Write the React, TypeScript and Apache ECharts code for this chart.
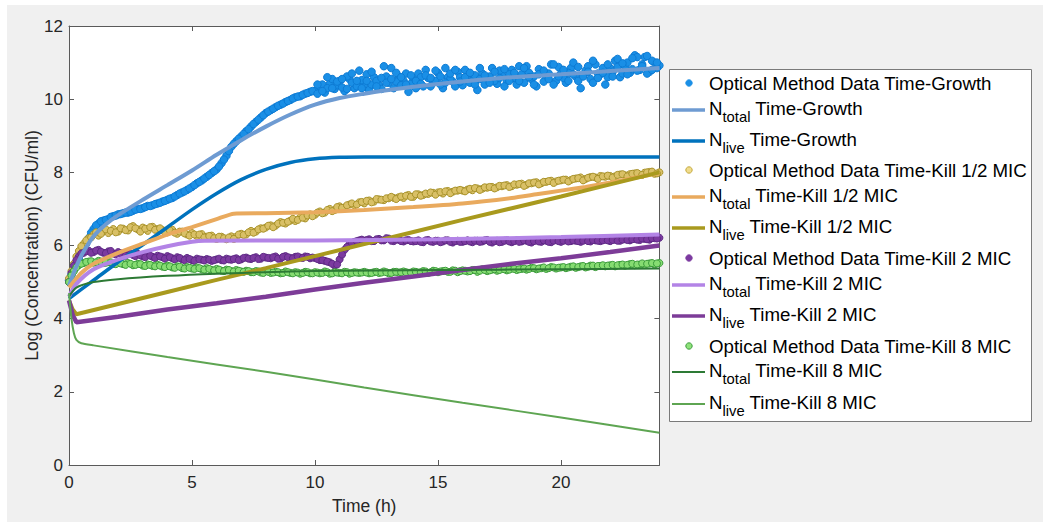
import React, { useEffect, useRef } from "react";
import * as echarts from "echarts";

// sample times (h) of the optical method data
const T = [
  0, 0.2, 0.4, 0.6, 0.8, 1, 1.2, 1.4, 1.6, 1.8,
  2, 2.2, 2.4, 2.6, 2.8, 3, 3.2, 3.4, 3.6, 3.8,
  4, 4.2, 4.4, 4.6, 4.8, 5, 5.2, 5.4, 5.6, 5.8,
  6, 6.2, 6.4, 6.6, 6.8, 7, 7.2, 7.4, 7.6, 7.8,
  8, 8.2, 8.4, 8.6, 8.8, 9, 9.2, 9.4, 9.6, 9.8,
  10, 10.2, 10.4, 10.6, 10.8, 11, 11.2, 11.4, 11.6, 11.8,
  12, 12.2, 12.4, 12.6, 12.8, 13, 13.2, 13.4, 13.6, 13.8,
  14, 14.2, 14.4, 14.6, 14.8, 15, 15.2, 15.4, 15.6, 15.8,
  16, 16.2, 16.4, 16.6, 16.8, 17, 17.2, 17.4, 17.6, 17.8,
  18, 18.2, 18.4, 18.6, 18.8, 19, 19.2, 19.4, 19.6, 19.8,
  20, 20.2, 20.4, 20.6, 20.8, 21, 21.2, 21.4, 21.6, 21.8,
  22, 22.2, 22.4, 22.6, 22.8, 23, 23.2, 23.4, 23.6, 23.8,
  24,
];
// readings taken between the samples above
const T1 = [
  0.1, 0.3, 0.5, 0.7, 0.9, 1.1, 1.3, 1.5, 1.7, 1.9,
  2.1, 2.3, 2.5, 2.7, 2.9, 3.1, 3.3, 3.5, 3.7, 3.9,
  4.1, 4.3, 4.5, 4.7, 4.9, 5.1, 5.3, 5.5, 5.7, 5.9,
  6.1, 6.3, 6.5, 6.7, 6.9, 7.1, 7.3, 7.5, 7.7, 7.9,
  8.1, 8.3, 8.5, 8.7, 8.9, 9.1, 9.3, 9.5, 9.7, 9.9,
  10.1, 10.3, 10.5, 10.7, 10.9, 11.1, 11.3, 11.5, 11.7, 11.9,
  12.1, 12.3, 12.5, 12.7, 12.9, 13.1, 13.3, 13.5, 13.7, 13.9,
  14.1, 14.3, 14.5, 14.7, 14.9, 15.1, 15.3, 15.5, 15.7, 15.9,
  16.1, 16.3, 16.5, 16.7, 16.9, 17.1, 17.3, 17.5, 17.7, 17.9,
  18.1, 18.3, 18.5, 18.7, 18.9, 19.1, 19.3, 19.5, 19.7, 19.9,
  20.1, 20.3, 20.5, 20.7, 20.9, 21.1, 21.3, 21.5, 21.7, 21.9,
  22.1, 22.3, 22.5, 22.7, 22.9, 23.1, 23.3, 23.5, 23.7, 23.9,
];

const growthData = [
  5.05, 5.35, 5.62, 5.9, 6.2, 6.45, 6.6, 6.68, 6.72, 6.8,
  6.85, 6.88, 6.9, 6.95, 7.0, 7.02, 7.08, 7.1, 7.15, 7.2,
  7.25, 7.3, 7.38, 7.45, 7.52, 7.6, 7.7, 7.78, 7.88, 7.98,
  8.08, 8.25, 8.45, 8.7, 8.85, 8.98, 9.12, 9.25, 9.38, 9.5,
  9.62, 9.7, 9.78, 9.85, 9.92, 9.98, 10.05, 10.08, 10.15, 10.2,
  10.22, 10.35, 10.18, 10.42, 10.28, 10.5, 10.22, 10.55, 10.3, 10.78,
  10.4, 10.25, 10.6, 10.38, 10.9, 10.45, 10.3, 10.62, 10.5, 10.2,
  10.55, 10.7, 10.35, 10.58, 10.45, 10.72, 10.3, 10.6, 10.48, 10.75,
  10.38, 10.62, 10.5, 10.25, 10.7, 10.55, 10.85, 10.42, 10.65, 10.5,
  10.8, 10.4, 10.68, 10.9, 10.55, 10.35, 10.75, 10.6, 10.95, 10.5,
  10.7, 10.45, 10.85, 10.62, 10.3, 10.78, 10.55, 10.95, 10.68, 10.4,
  10.85, 11.05, 10.6, 10.9, 10.72, 11.2, 10.8, 11.15, 10.75, 11.0,
  10.92,
];
const growthOdd = [
  5.2, 5.5, 5.78, 6.05, 6.35, 6.55, 6.66, 6.7, 6.78, 6.82,
  6.86, 6.9, 6.92, 6.98, 7.0, 7.05, 7.08, 7.13, 7.17, 7.22,
  7.28, 7.34, 7.42, 7.48, 7.56, 7.65, 7.74, 7.83, 7.93, 8.03,
  8.16, 8.35, 8.58, 8.78, 8.92, 9.05, 9.18, 9.32, 9.44, 9.56,
  9.66, 9.74, 9.82, 9.88, 9.95, 10.02, 10.07, 10.12, 10.17, 10.22,
  10.15, 10.4, 10.3, 10.55, 10.38, 10.32, 10.62, 10.45, 10.35, 10.52,
  10.68, 10.4, 10.5, 10.28, 10.62, 10.85, 10.48, 10.38, 10.7, 10.42,
  10.3, 10.6, 10.8, 10.35, 10.5, 10.4, 10.85, 10.55, 10.35, 10.6,
  10.8, 10.45, 10.65, 10.55, 10.4, 10.62, 10.5, 10.78, 10.35, 10.68,
  10.58, 10.9, 10.45, 10.72, 10.62, 10.82, 10.48, 10.7, 10.4, 10.88,
  10.58, 10.72, 11.0, 10.5, 10.65, 10.9, 10.45, 10.7, 10.85, 10.6,
  10.75, 11.1, 10.7, 11.0, 10.82, 11.15, 10.95, 10.7, 11.05, 10.85,
];
// a second set of late readings (t = 10.1 h onwards)
const growthLate = [
  10.4, 10.22, 10.6, 10.3, 10.48, 10.55, 10.28, 10.7, 10.5, 10.3,
  10.5, 10.75, 10.35, 10.58, 10.45, 10.55, 10.72, 10.6, 10.4, 10.65,
  10.5, 10.42, 10.65, 10.58, 10.78, 10.62, 10.45, 10.7, 10.8, 10.48,
  10.6, 10.72, 10.4, 10.85, 10.65, 10.45, 10.75, 10.58, 10.82, 10.5,
  10.72, 10.5, 10.85, 10.6, 10.4, 10.68, 10.78, 10.55, 10.95, 10.62,
  10.8, 10.5, 10.68, 10.88, 10.62, 10.75, 11.05, 10.58, 10.72, 10.95,
  10.62, 10.88, 10.98, 10.68, 11.12, 10.78, 10.9, 11.18, 10.8, 11.0,
];

const halfMicData = [
  5.1, 5.5, 5.85, 6.05, 6.2, 6.3, 6.27, 6.38, 6.34, 6.45,
  6.38, 6.46, 6.41, 6.53, 6.44, 6.49, 6.4, 6.51, 6.45, 6.42,
  6.36, 6.43, 6.32, 6.38, 6.3, 6.34, 6.26, 6.31, 6.24, 6.27,
  6.18, 6.24, 6.17, 6.25, 6.24, 6.32, 6.3, 6.4, 6.38, 6.47,
  6.49, 6.55, 6.54, 6.64, 6.6, 6.68, 6.67, 6.77, 6.74, 6.85,
  6.84, 6.93, 6.9, 7.0, 6.97, 7.07, 7.04, 7.12, 7.1, 7.18,
  7.15, 7.23, 7.2, 7.26, 7.24, 7.29, 7.3, 7.32, 7.3, 7.38,
  7.33, 7.4, 7.38, 7.41, 7.44, 7.45, 7.42, 7.49, 7.47, 7.5,
  7.5, 7.53, 7.51, 7.56, 7.55, 7.58, 7.6, 7.59, 7.62, 7.65,
  7.62, 7.66, 7.69, 7.66, 7.7, 7.73, 7.7, 7.74, 7.77, 7.75,
  7.78, 7.8, 7.79, 7.83, 7.86, 7.82, 7.87, 7.86, 7.9, 7.88,
  7.9, 7.89, 7.94, 7.92, 7.95, 7.97, 7.94, 7.99, 8.01, 7.96,
  8.0,
];
const halfMicOdd = [
  5.3, 5.7, 5.98, 6.14, 6.22, 6.36, 6.32, 6.44, 6.4, 6.36,
  6.47, 6.42, 6.5, 6.47, 6.38, 6.46, 6.5, 6.43, 6.47, 6.36,
  6.41, 6.35, 6.38, 6.33, 6.27, 6.3, 6.3, 6.22, 6.26, 6.2,
  6.24, 6.2, 6.22, 6.18, 6.3, 6.29, 6.36, 6.35, 6.44, 6.46,
  6.54, 6.5, 6.6, 6.62, 6.65, 6.73, 6.7, 6.76, 6.82, 6.8,
  6.9, 6.88, 6.97, 6.94, 7.05, 7.03, 7.1, 7.15, 7.12, 7.19,
  7.22, 7.18, 7.27, 7.25, 7.29, 7.33, 7.27, 7.34, 7.36, 7.33,
  7.4, 7.36, 7.42, 7.45, 7.39, 7.46, 7.48, 7.43, 7.5, 7.52,
  7.48, 7.55, 7.57, 7.52, 7.59, 7.6, 7.56, 7.63, 7.64, 7.6,
  7.67, 7.68, 7.63, 7.7, 7.72, 7.67, 7.74, 7.76, 7.71, 7.77,
  7.8, 7.75, 7.82, 7.84, 7.78, 7.85, 7.88, 7.82, 7.89, 7.91,
  7.86, 7.93, 7.95, 7.89, 7.96, 7.98, 7.93, 8.0, 8.02, 7.97,
];

const twoMicData = [
  5.0, 5.45, 5.7, 5.8, 5.86, 5.82, 5.88, 5.8, 5.84, 5.78,
  5.82, 5.75, 5.78, 5.74, 5.77, 5.7, 5.75, 5.69, 5.72, 5.68,
  5.71, 5.65, 5.68, 5.62, 5.66, 5.6, 5.64, 5.61, 5.63, 5.58,
  5.62, 5.6, 5.64, 5.61, 5.65, 5.62, 5.67, 5.63, 5.68, 5.64,
  5.67, 5.65, 5.7, 5.64, 5.71, 5.66, 5.69, 5.67, 5.7, 5.65,
  5.66, 5.6, 5.58, 5.54, 5.45, 5.62, 5.88, 6.03, 6.1, 6.14,
  6.13, 6.17, 6.12, 6.18, 6.14, 6.19, 6.12, 6.16, 6.11, 6.15,
  6.11, 6.14, 6.09, 6.15, 6.1, 6.13, 6.11, 6.14, 6.08, 6.13,
  6.1, 6.14, 6.09, 6.13, 6.11, 6.15, 6.08, 6.13, 6.1, 6.14,
  6.09, 6.14, 6.11, 6.13, 6.08, 6.14, 6.1, 6.13, 6.09, 6.15,
  6.1, 6.14, 6.12, 6.13, 6.1, 6.15, 6.11, 6.14, 6.12, 6.16,
  6.12, 6.16, 6.13, 6.17, 6.14, 6.18, 6.15, 6.18, 6.16, 6.2,
  6.21,
];
const twoMicOdd = [
  5.25, 5.6, 5.78, 5.84, 5.8, 5.86, 5.83, 5.79, 5.85, 5.76,
  5.79, 5.72, 5.77, 5.71, 5.73, 5.68, 5.72, 5.66, 5.7, 5.64,
  5.68, 5.62, 5.66, 5.6, 5.63, 5.58, 5.62, 5.59, 5.61, 5.6,
  5.64, 5.59, 5.62, 5.63, 5.6, 5.66, 5.64, 5.66, 5.63, 5.69,
  5.66, 5.68, 5.64, 5.69, 5.68, 5.65, 5.7, 5.66, 5.69, 5.67,
  5.63, 5.6, 5.56, 5.5, 5.48, 5.75, 5.96, 6.07, 6.12, 6.16,
  6.15, 6.12, 6.17, 6.14, 6.2, 6.13, 6.16, 6.12, 6.14, 6.12,
  6.12, 6.1, 6.14, 6.11, 6.13, 6.09, 6.14, 6.1, 6.12, 6.1,
  6.12, 6.11, 6.13, 6.1, 6.14, 6.1, 6.12, 6.09, 6.13, 6.11,
  6.12, 6.1, 6.14, 6.1, 6.12, 6.11, 6.14, 6.1, 6.13, 6.12,
  6.13, 6.11, 6.14, 6.12, 6.13, 6.12, 6.15, 6.13, 6.14, 6.14,
  6.15, 6.13, 6.16, 6.15, 6.17, 6.16, 6.19, 6.17, 6.2, 6.19,
];

const eightMicData = [
  5.0, 5.3, 5.46, 5.52, 5.56, 5.53, 5.58, 5.52, 5.55, 5.5,
  5.53, 5.49, 5.52, 5.46, 5.5, 5.45, 5.48, 5.44, 5.47, 5.42,
  5.45, 5.4, 5.43, 5.38, 5.41, 5.37, 5.4, 5.35, 5.38, 5.33,
  5.36, 5.31, 5.34, 5.3, 5.33, 5.29, 5.31, 5.27, 5.3, 5.26,
  5.3, 5.25, 5.28, 5.24, 5.29, 5.25, 5.27, 5.23, 5.28, 5.24,
  5.27, 5.24, 5.29, 5.23, 5.27, 5.25, 5.28, 5.23, 5.27, 5.25,
  5.28, 5.24, 5.27, 5.25, 5.29, 5.24, 5.28, 5.26, 5.29, 5.25,
  5.29, 5.26, 5.3, 5.25, 5.31, 5.27, 5.3, 5.28, 5.32, 5.27,
  5.32, 5.29, 5.33, 5.28, 5.35, 5.3, 5.34, 5.31, 5.36, 5.32,
  5.37, 5.33, 5.36, 5.34, 5.39, 5.35, 5.38, 5.36, 5.41, 5.37,
  5.4, 5.38, 5.42, 5.39, 5.43, 5.4, 5.45, 5.41, 5.44, 5.43,
  5.46, 5.43, 5.47, 5.45, 5.49, 5.46, 5.48, 5.47, 5.51, 5.48,
  5.52,
];
const eightMicOdd = [
  5.18, 5.4, 5.5, 5.55, 5.57, 5.54, 5.56, 5.53, 5.54, 5.49,
  5.51, 5.47, 5.5, 5.47, 5.49, 5.44, 5.47, 5.43, 5.45, 5.41,
  5.43, 5.39, 5.42, 5.37, 5.39, 5.36, 5.38, 5.34, 5.36, 5.32,
  5.34, 5.3, 5.33, 5.29, 5.31, 5.28, 5.3, 5.27, 5.29, 5.25,
  5.28, 5.26, 5.27, 5.25, 5.27, 5.24, 5.26, 5.25, 5.27, 5.24,
  5.26, 5.25, 5.27, 5.24, 5.26, 5.24, 5.27, 5.25, 5.26, 5.26,
  5.26, 5.25, 5.28, 5.26, 5.27, 5.25, 5.28, 5.27, 5.27, 5.26,
  5.28, 5.27, 5.29, 5.27, 5.3, 5.29, 5.31, 5.28, 5.31, 5.3,
  5.31, 5.3, 5.33, 5.31, 5.33, 5.32, 5.35, 5.33, 5.35, 5.34,
  5.36, 5.35, 5.37, 5.36, 5.38, 5.37, 5.4, 5.38, 5.4, 5.39,
  5.41, 5.4, 5.43, 5.41, 5.44, 5.42, 5.45, 5.44, 5.46, 5.45,
  5.47, 5.46, 5.48, 5.47, 5.5, 5.48, 5.51, 5.5, 5.52, 5.51,
];

// model curves: [time (h), log concentration]
const nTotalGrowth = [[0, 4.9], [0.25, 5.35], [0.5, 5.72], [1, 6.25], [1.5, 6.58], [2, 6.83], [3, 7.25], [4, 7.65], [5, 8.05], [6, 8.48], [7, 8.88], [8, 9.25], [9, 9.58], [10, 9.85], [11, 10.03], [12, 10.15], [13, 10.25], [14, 10.34], [16, 10.48], [18, 10.6], [20, 10.68], [22, 10.77], [24, 10.85]];
const nLiveGrowth = [[0, 4.55], [1, 5.05], [2, 5.55], [3, 6.02], [4, 6.5], [5, 6.98], [6, 7.42], [7, 7.8], [8, 8.08], [9, 8.27], [10, 8.37], [11, 8.41], [12, 8.42], [24, 8.42]];
const nTotalHalf = [[0, 4.85], [0.5, 5.25], [1, 5.5], [2, 5.8], [3, 6.05], [4, 6.3], [5, 6.5], [6, 6.72], [6.7, 6.87], [8, 6.88], [10, 6.91], [12, 6.97], [14, 7.05], [16, 7.15], [18, 7.3], [19, 7.4], [20, 7.5], [21, 7.6], [22, 7.72], [23, 7.85], [24, 7.98]];
const nLiveHalf = [[0, 4.5], [0.15, 4.25], [0.3, 4.12], [2, 4.4], [4, 4.73], [6, 5.06], [8, 5.38], [10, 5.71], [12, 6.04], [14, 6.37], [16, 6.7], [18, 7.02], [20, 7.34], [22, 7.67], [24, 8.0]];
const nTotal2 = [[0, 4.6], [0.3, 4.95], [1, 5.35], [2, 5.62], [3, 5.82], [4, 5.98], [5, 6.1], [5.5, 6.13], [10, 6.14], [15, 6.17], [20, 6.23], [24, 6.3]];
const nLive2 = [[0, 4.5], [0.15, 4.1], [0.3, 3.9], [2, 4.05], [4, 4.25], [6, 4.42], [8, 4.6], [10, 4.8], [12, 4.98], [14, 5.15], [16, 5.33], [18, 5.5], [20, 5.65], [22, 5.82], [24, 6.0]];
const nTotal8 = [[0, 4.6], [0.3, 4.85], [1, 5.0], [2, 5.08], [4, 5.17], [6, 5.23], [8, 5.27], [10, 5.3], [15, 5.33], [20, 5.35], [24, 5.37]];
const nLive8 = [[0, 4.7], [0.1, 4.0], [0.2, 3.6], [0.3, 3.42], [0.5, 3.33], [1, 3.27], [4, 2.95], [8, 2.55], [12, 2.12], [16, 1.7], [20, 1.3], [24, 0.88]];

const xTicks = [0, 24, 5];
const yTicks = [0, 12, 2];

const FONT = "'Liberation Sans', Arial, Helvetica, sans-serif";

type Entry = {
  kind: "dot" | "line";
  fill: string;
  stroke?: string;
  width?: number;
  text?: string;
  sub?: string;
  rest?: string;
};

const legendEntries: Entry[] = [
  { kind: "dot", fill: "#1a8fe6", stroke: "#1a8fe6", text: "Optical Method Data Time-Growth" },
  { kind: "line", fill: "#6e9bd2", width: 3.5, sub: "total", rest: " Time-Growth" },
  { kind: "line", fill: "#0072bd", width: 3.5, sub: "live", rest: " Time-Growth" },
  { kind: "dot", fill: "#f0dc8c", stroke: "#c4a83a", text: "Optical Method Data Time-Kill 1/2 MIC" },
  { kind: "line", fill: "#e9aa5e", width: 3.5, sub: "total", rest: " Time-Kill 1/2 MIC" },
  { kind: "line", fill: "#a99a1e", width: 3.5, sub: "live", rest: " Time-Kill 1/2 MIC" },
  { kind: "dot", fill: "#7c3aa0", stroke: "#7c3aa0", text: "Optical Method Data Time-Kill 2 MIC" },
  { kind: "line", fill: "#b384e6", width: 3.5, sub: "total", rest: " Time-Kill 2 MIC" },
  { kind: "line", fill: "#7d3c98", width: 3.5, sub: "live", rest: " Time-Kill 2 MIC" },
  { kind: "dot", fill: "#8ee27a", stroke: "#3a9a3a", text: "Optical Method Data Time-Kill 8 MIC" },
  { kind: "line", fill: "#2d7a35", width: 2, sub: "total", rest: " Time-Kill 8 MIC" },
  { kind: "line", fill: "#5ea552", width: 2, sub: "live", rest: " Time-Kill 8 MIC" },
];
const legendRowY = [83, 108, 139, 170, 195, 226, 258, 283, 314, 346, 370, 402];

function measure(text: string, size: number): number {
  const c = document.createElement("canvas").getContext("2d");
  if (!c) return text.length * size * 0.5;
  c.font = `${size}px 'Liberation Sans', Arial, sans-serif`;
  return c.measureText(text).width;
}

function buildLegend(): any[] {
  const els: any[] = [
    {
      type: "rect",
      shape: { x: 669.5, y: 69.5, width: 362, height: 352 },
      style: { fill: "#ffffff", stroke: "#7a7a7a", lineWidth: 1 },
      z: 10,
    },
  ];
  const big = 18.7;
  const small = 14.8;
  const x0 = 709;
  legendEntries.forEach((e, i) => {
    const y = legendRowY[i];
    if (e.kind === "dot") {
      els.push({
        type: "circle",
        shape: { cx: 689, cy: y, r: 3.2 },
        style: { fill: e.fill, stroke: e.stroke, lineWidth: 1 },
        z: 11,
      });
      els.push({
        type: "text",
        x: x0,
        y,
        style: { text: e.text, fontSize: big, fontFamily: FONT, fill: "#000", align: "left", verticalAlign: "middle" },
        z: 11,
      });
    } else {
      els.push({
        type: "line",
        shape: { x1: 672, y1: y + 2, x2: 705, y2: y + 2 },
        style: { stroke: e.fill, lineWidth: e.width },
        z: 11,
      });
      const wN = measure("N", big);
      const wS = measure(e.sub || "", small);
      els.push({
        type: "text",
        x: x0,
        y,
        style: { text: "N", fontSize: big, fontFamily: FONT, fill: "#000", align: "left", verticalAlign: "middle" },
        z: 11,
      });
      els.push({
        type: "text",
        x: x0 + wN,
        y: y + 8.5,
        style: { text: e.sub, fontSize: small, fontFamily: FONT, fill: "#000", align: "left", verticalAlign: "middle" },
        z: 11,
      });
      els.push({
        type: "text",
        x: x0 + wN + wS,
        y,
        style: { text: e.rest, fontSize: big, fontFamily: FONT, fill: "#000", align: "left", verticalAlign: "middle" },
        z: 11,
      });
    }
  });
  return els;
}

export default function App() {
  const ref = useRef<HTMLDivElement>(null);
  useEffect(() => {
    if (!ref.current) return;
    const chart = echarts.init(ref.current, null, { renderer: "svg" });
    const pts = (vals: number[], times: number[]) => vals.map((v, i) => [times[i], v]);
    const lateT = T1.slice(50);
    const axisColor = "#5a5a5a";
    const scatter = (name: string, data: any[], fill: string, border: string, size: number) => ({
      name,
      type: "scatter",
      data,
      symbol: "circle",
      symbolSize: size,
      itemStyle: { color: fill, borderColor: border, borderWidth: 1, opacity: 1 },
      silent: true,
    });
    const line = (name: string, data: number[][], color: string, width: number, smooth: boolean | number) => ({
      name,
      type: "line",
      data,
      showSymbol: false,
      symbol: "none",
      smooth,
      lineStyle: { color, width },
      itemStyle: { color },
      silent: true,
    });
    const xBase = {
      type: "value",
      min: xTicks[0],
      max: xTicks[1],
      interval: xTicks[2],
      splitLine: { show: false },
      axisLine: { show: true, onZero: false, lineStyle: { color: axisColor, width: 1 } },
      axisTick: { show: true, inside: true, length: 5, lineStyle: { color: axisColor } },
    };
    const yBase = {
      type: "value",
      min: yTicks[0],
      max: yTicks[1],
      interval: yTicks[2],
      splitLine: { show: false },
      axisLine: { show: true, onZero: false, lineStyle: { color: axisColor, width: 1 } },
      axisTick: { show: true, inside: true, length: 5, lineStyle: { color: axisColor } },
    };
    const option: any = {
      animation: false,
      backgroundColor: "#ffffff",
      textStyle: { fontFamily: FONT },
      grid: {
        left: 69,
        right: 390.6,
        top: 26,
        bottom: 65,
        containLabel: false,
        show: true,
        backgroundColor: "#ffffff",
        borderWidth: 0,
      },
      xAxis: [
        {
          ...xBase,
          position: "bottom",
          axisLabel: { color: "#262626", fontSize: 17, margin: 9, fontFamily: FONT, showMaxLabel: false },
          name: "Time (h)",
          nameLocation: "middle",
          nameGap: 32,
          nameMoveOverlap: false,
          nameTextStyle: { color: "#262626", fontSize: 17.5, fontFamily: FONT },
        },
        { ...xBase, position: "top", axisLabel: { show: false } },
      ],
      yAxis: [
        {
          ...yBase,
          position: "left",
          axisLabel: { color: "#262626", fontSize: 17, margin: 6, fontFamily: FONT },
          name: "Log (Concentration) (CFU/ml)",
          nameLocation: "middle",
          nameGap: 28,
          nameMoveOverlap: false,
          nameTextStyle: { color: "#262626", fontSize: 17.5, fontFamily: FONT },
        },
        { ...yBase, position: "right", axisLabel: { show: false } },
      ],
      graphic: [
        {
          type: "rect",
          shape: { x: 7, y: 5, width: 1036, height: 517 },
          style: { fill: "#f0f0f0" },
          z: -100,
          silent: true,
        },
        ...buildLegend(),
      ],
      series: [
        scatter(
          "Optical Method Data Time-Growth",
          [...pts(growthData, T), ...pts(growthOdd, T1), ...pts(growthLate, lateT)],
          "#1a8fe6",
          "#0d7bd4",
          7.5
        ),
        line("Ntotal Time-Growth", nTotalGrowth, "#6e9bd2", 4, 0.3),
        line("Nlive Time-Growth", nLiveGrowth, "#0072bd", 3.5, 0.3),
        scatter(
          "Optical Method Data Time-Kill 1/2 MIC",
          [...pts(halfMicData, T), ...pts(halfMicOdd, T1)],
          "#d9c066",
          "#a8922a",
          7
        ),
        line("Ntotal Time-Kill 1/2 MIC", nTotalHalf, "#e9aa5e", 4, 0.2),
        line("Nlive Time-Kill 1/2 MIC", nLiveHalf, "#a99a1e", 4, false),
        scatter(
          "Optical Method Data Time-Kill 2 MIC",
          [...pts(twoMicData, T), ...pts(twoMicOdd, T1)],
          "#7c3aa0",
          "#5e2a85",
          7
        ),
        line("Ntotal Time-Kill 2 MIC", nTotal2, "#b384e6", 4, 0.3),
        line("Nlive Time-Kill 2 MIC", nLive2, "#7d3c98", 4.5, false),
        scatter(
          "Optical Method Data Time-Kill 8 MIC",
          [...pts(eightMicData, T), ...pts(eightMicOdd, T1)],
          "#86dc72",
          "#3a9a3a",
          7
        ),
        line("Ntotal Time-Kill 8 MIC", nTotal8, "#2d7a35", 2, 0.3),
        line("Nlive Time-Kill 8 MIC", nLive8, "#5ea552", 2, 0.2),
      ],
    };
    chart.setOption(option);
    return () => chart.dispose();
  }, []);
  return (
    <div
      ref={ref}
      style={{ position: "absolute", left: 0, top: 0, width: 1050, height: 530 }}
    />
  );
}
